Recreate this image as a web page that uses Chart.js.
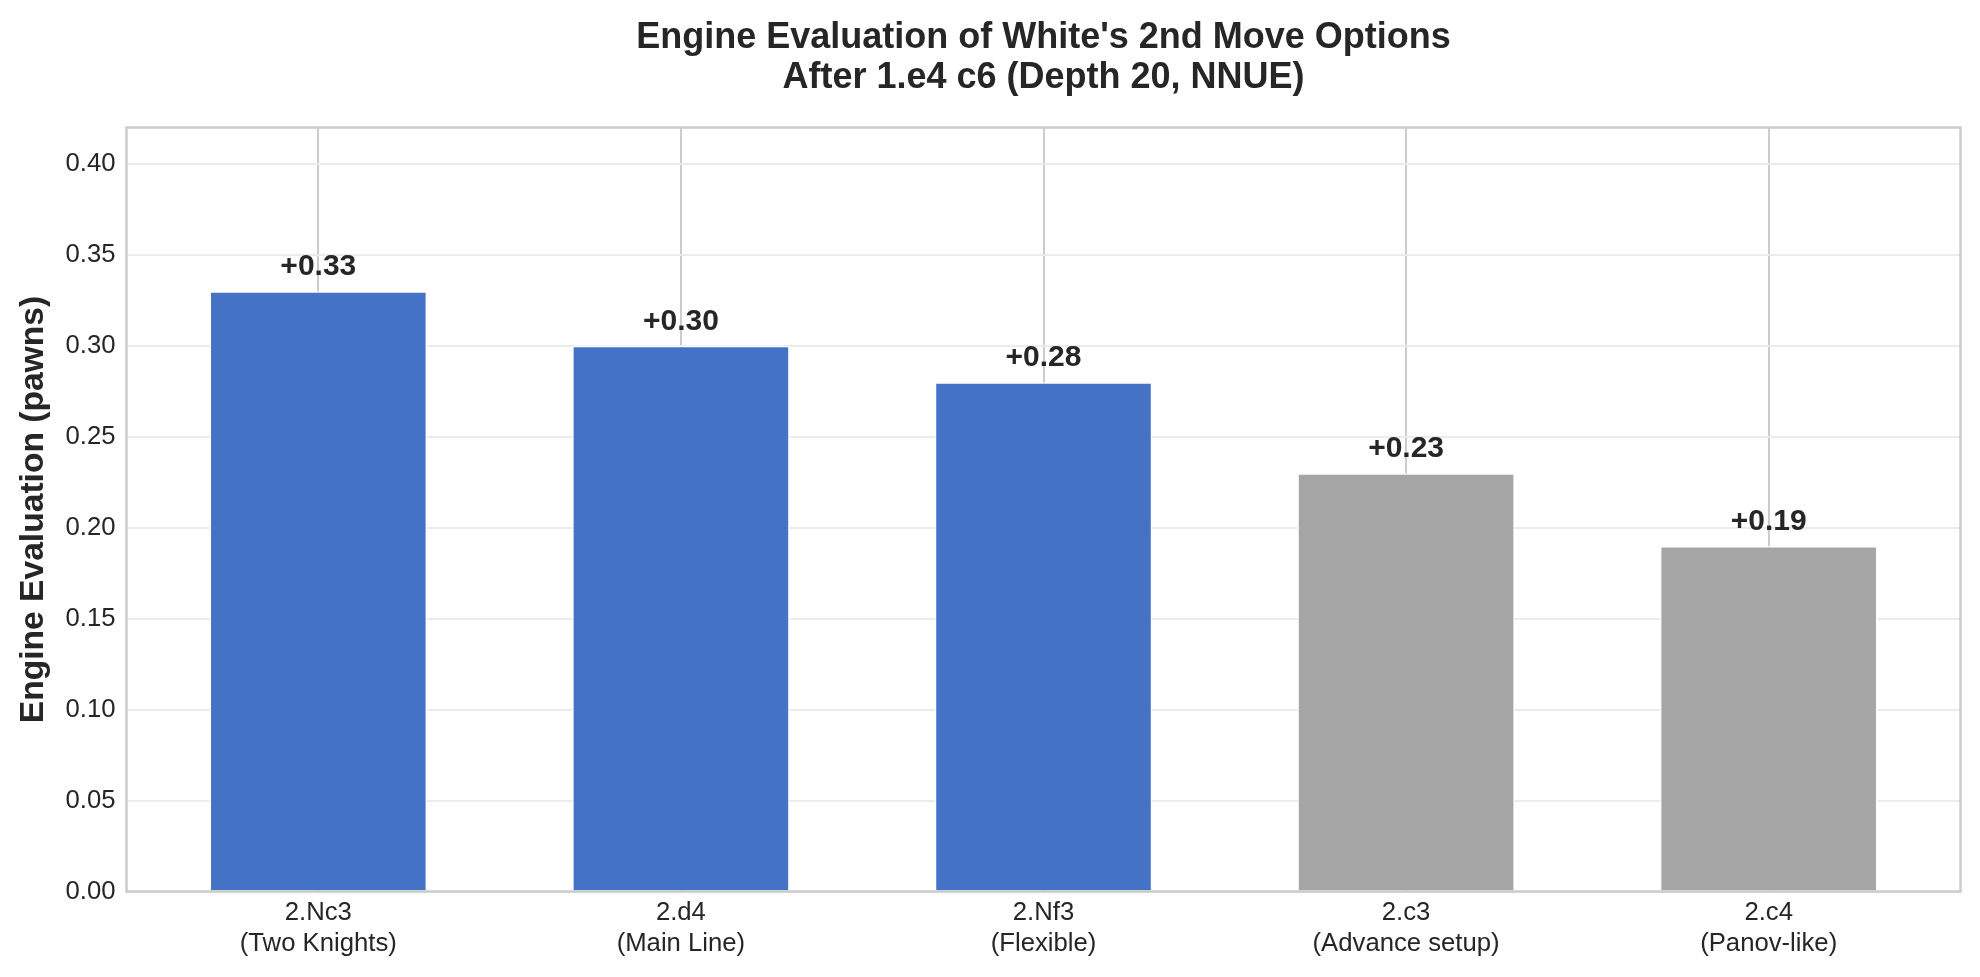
<!DOCTYPE html>
<html>
<head>
<meta charset="utf-8">
<script src="https://cdn.jsdelivr.net/npm/chart.js@4.4.1/dist/chart.umd.min.js"></script>
<style>
  html, body { margin: 0; padding: 0; background: #ffffff; }
  canvas { display: block; }
</style>
</head>
<body>
<canvas id="chart" width="1980" height="977" style="width:1980px;height:977px"></canvas>
<script>
// ---- Data ----
const moves = ['2.Nc3', '2.d4', '2.Nf3', '2.c3', '2.c4'];
const descriptions = ['(Two Knights)', '(Main Line)', '(Flexible)', '(Advance setup)', '(Panov-like)'];
const evaluations = [0.33, 0.30, 0.28, 0.23, 0.19];
const yTickValues = [0.00, 0.05, 0.10, 0.15, 0.20, 0.25, 0.30, 0.35, 0.40];
const titleLines = ["Engine Evaluation of White's 2nd Move Options", 'After 1.e4 c6 (Depth 20, NNUE)'];
const yAxisLabel = 'Engine Evaluation (pawns)';

// ---- Styles ----
const BLUE = '#4472C4';
const GRAY = '#A5A5A5';
const barColors = [BLUE, BLUE, BLUE, GRAY, GRAY];
const TEXT = '#262626';
const SPINE = '#cccccc';
const FONT = "'Liberation Sans', Arial, Helvetica, sans-serif";

Chart.defaults.font.family = FONT;
Chart.defaults.color = TEXT;

const valueLabels = {
  id: 'valueLabels',
  afterDatasetsDraw(chart) {
    const ctx = chart.ctx;
    const xs = chart.scales.x, ys = chart.scales.y;
    ctx.save();
    ctx.font = 'bold 30px ' + FONT;
    ctx.fillStyle = TEXT;
    ctx.textAlign = 'center';
    ctx.textBaseline = 'bottom';
    evaluations.forEach((v, i) => {
      ctx.fillText('+' + v.toFixed(2), xs.getPixelForValue(i), ys.getPixelForValue(v + 0.005));
    });
    ctx.restore();
  }
};

const spines = {
  id: 'spines',
  afterDatasetsDraw(chart) {
    const {left, right, top, bottom} = chart.chartArea;
    const ctx = chart.ctx;
    ctx.save();
    ctx.strokeStyle = SPINE;
    ctx.lineWidth = 2.5;
    ctx.strokeRect(left, top, right - left, bottom - top);
    ctx.restore();
  }
};

new Chart(document.getElementById('chart'), {
  type: 'bar',
  data: {
    datasets: [{
      data: evaluations.map((v, i) => ({x: i, y: v})),
      backgroundColor: barColors,
      borderColor: '#ffffff',
      borderWidth: 1.5,
      barPercentage: 0.6,
      categoryPercentage: 1.0
    }]
  },
  options: {
    responsive: false,
    animation: false,
    devicePixelRatio: 1,
    layout: { padding: { left: 0, right: 19.5, top: 0, bottom: 0 } },
    plugins: {
      legend: { display: false },
      tooltip: { enabled: false },
      title: {
        display: true,
        fullSize: false,
        text: titleLines,
        color: TEXT,
        font: { family: FONT, size: 36, weight: 'bold', lineHeight: 1.12 },
        padding: { top: 17.5, bottom: 29.4 }
      }
    },
    scales: {
      x: {
        type: 'linear',
        min: -0.529,
        max: 4.529,
        offset: false,
        afterBuildTicks: (scale) => { scale.ticks = moves.map((m, i) => ({ value: i })); },
        afterFit: (scale) => { scale.height = 85.5; },
        ticks: {
          callback: (value) => [moves[value], descriptions[value]],
          font: { family: FONT, size: 25.7, lineHeight: 1.2 },
          color: TEXT,
          padding: 6,
          maxRotation: 0,
          autoSkip: false
        },
        grid: { color: SPINE, lineWidth: 2, drawTicks: false, offset: false },
        border: { display: false }
      },
      y: {
        type: 'linear',
        min: 0,
        max: 0.42,
        z: -1,
        afterBuildTicks: (scale) => { scale.ticks = yTickValues.map(v => ({ value: v })); },
        afterFit: (scale) => { scale.width = 126.5; },
        ticks: {
          callback: (value) => Number(value).toFixed(2),
          font: { family: FONT, size: 25.7 },
          color: TEXT,
          padding: 11
        },
        grid: { color: '#ebebeb', lineWidth: 2, drawTicks: false },
        border: { display: false },
        title: {
          display: true,
          text: yAxisLabel,
          color: TEXT,
          font: { family: FONT, size: 33.6, weight: 'bold', lineHeight: 1.2 },
          padding: { top: 13.3, bottom: 0 }
        }
      }
    }
  },
  plugins: [valueLabels, spines]
});
</script>
</body>
</html>
